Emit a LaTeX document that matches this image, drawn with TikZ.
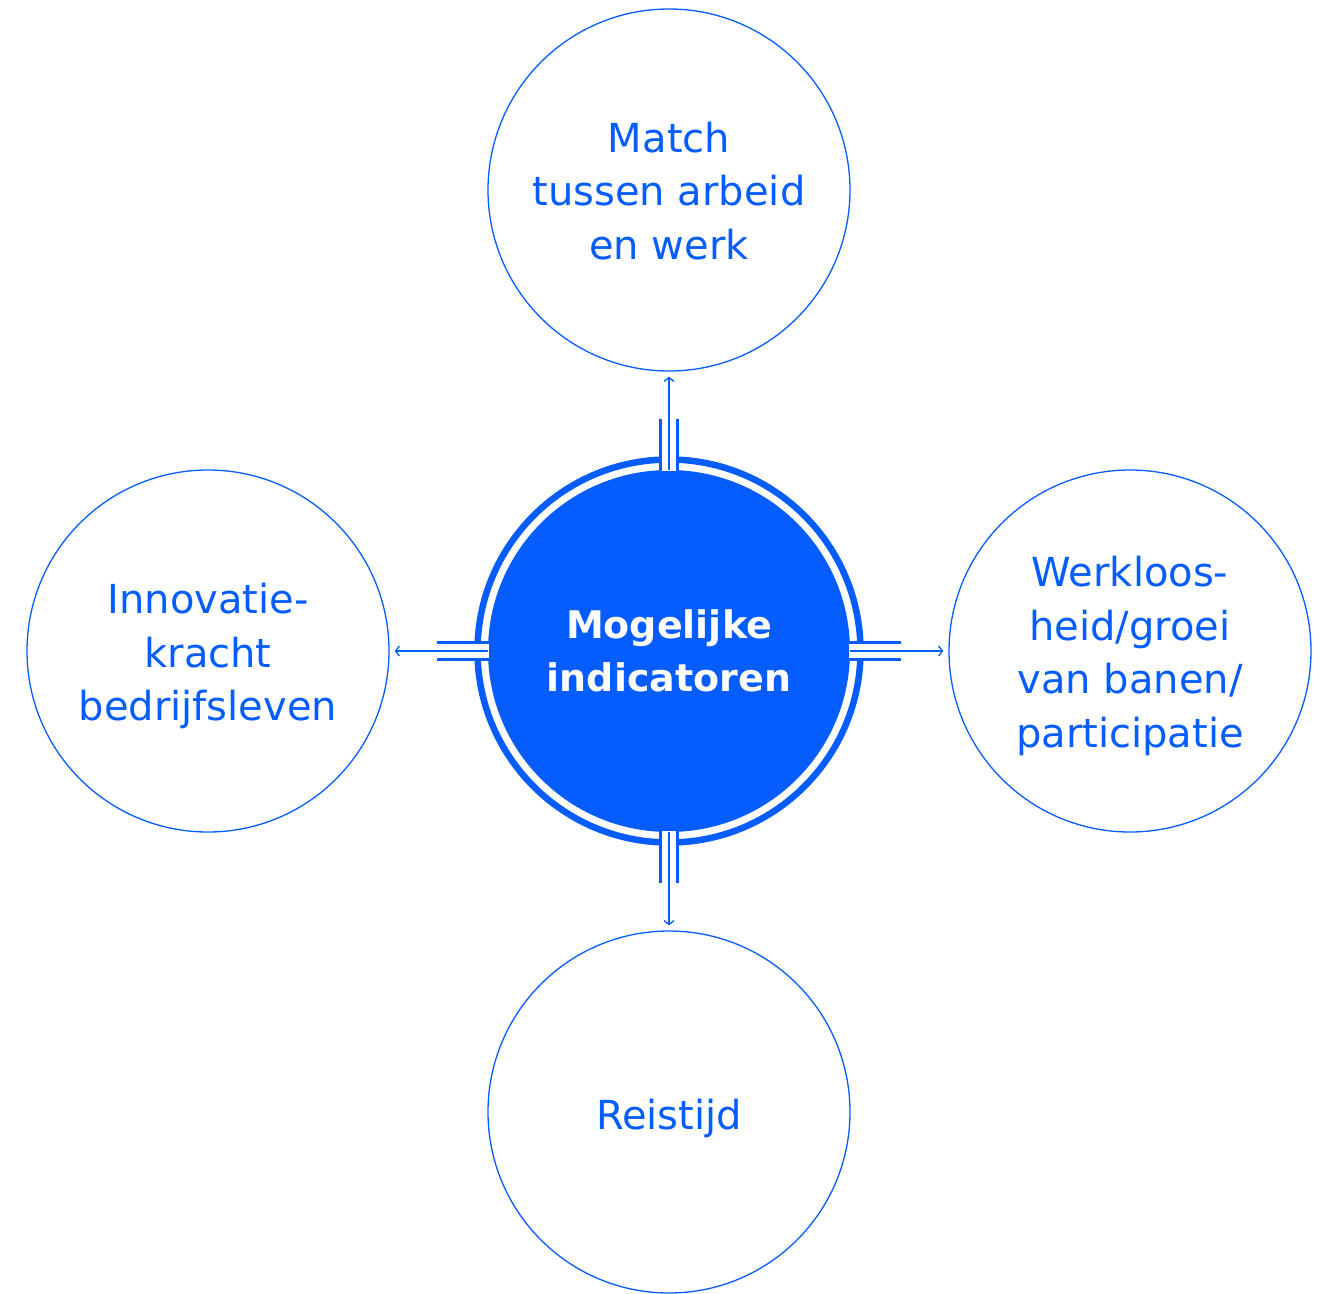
\documentclass[tikz,border=0pt]{standalone}
\usepackage{fontspec}
\setmainfont{DejaVu Sans}
\usetikzlibrary{arrows.meta}
\definecolor{myblue}{RGB}{5,92,255}
\begin{document}
\begin{tikzpicture}[x=1pt,y=-1pt,
 outer/.style={circle,draw=myblue,line width=1.3pt,minimum size=362pt,inner sep=0pt},
 lbl/.style={text=myblue,align=center,inner sep=0pt,font=\fontsize{40}{53.5}\selectfont},
 hub/.style={circle,fill=myblue,minimum size=362pt,inner sep=0pt,text=white,align=center,font=\fontsize{38}{53.5}\selectfont\bfseries},
 ring/.style={draw=myblue,line width=6.5pt},
 rail/.style={draw=myblue,line width=3pt,double=white,double distance=14pt},
 link/.style={draw=myblue,line width=1.3pt,-{Straight Barb[length=4pt,width=10pt]},shorten >=5pt}]
\useasboundingbox (0,0) rectangle (1322,1293);
\node[hub] (c) at (669,651) {Mogelijke\\indicatoren};
\draw[ring] (c.center) circle[radius=191.5pt];
\node[outer] (t) at (669,190) {};
\node[outer] (l) at (208,651) {};
\node[outer] (r) at (1130,651) {};
\node[outer] (b) at (669,1112) {};
\node[lbl] (tt) at ([yshift=-1pt]t.center) {Match\\tussen arbeid\\en werk};
\node[lbl] (lt) at ([yshift=-5pt]l.center) {Innovatie-\\kracht\\bedrijfsleven};
\node[lbl] (rt) at ([yshift=-5pt]r.center) {Werkloos-\\heid/groei\\van banen/\\participatie};
\node[lbl] (bt) at ([yshift=-6pt]b.center) {Reistijd};
\draw[rail] ([yshift=-1pt]c.north) -- ++(0,-52);
\draw[rail] ([xshift=1pt]c.west) -- ++(-52,0);
\draw[rail] ([xshift=-1pt]c.east) -- ++(52,0);
\draw[rail] ([yshift=1pt]c.south) -- ++(0,52);
\draw[link] (c.north) -- (t.south);
\draw[link] (c.west) -- (l.east);
\draw[link] (c.east) -- (r.west);
\draw[link] (c.south) -- (b.north);
\end{tikzpicture}
\end{document}
